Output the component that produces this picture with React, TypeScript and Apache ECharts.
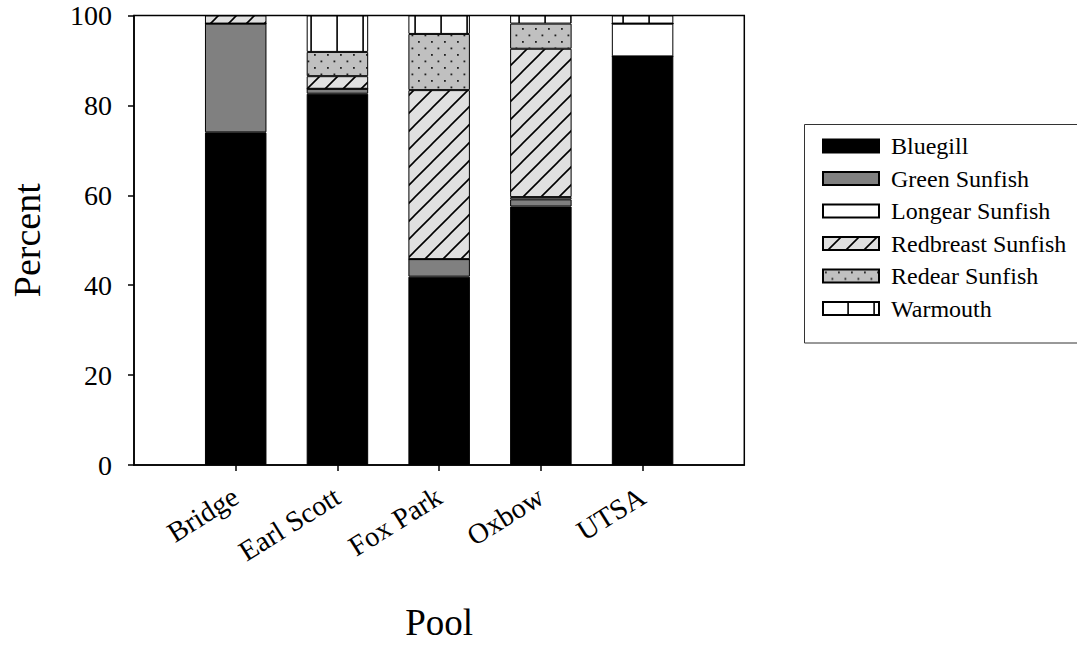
import React, { useEffect, useRef } from "react";
import * as echarts from "echarts";

const categories = ["Bridge", "Earl Scott", "Fox Park", "Oxbow", "UTSA"];
const seriesNames = [
  "Bluegill",
  "Green Sunfish",
  "Longear Sunfish",
  "Redbreast Sunfish",
  "Redear Sunfish",
  "Warmouth",
];
const bluegill = [74.0, 82.6, 41.9, 57.5, 90.9];
const greenSunfish = [24.2, 1.1, 3.9, 1.6, 0];
const longearSunfish = [0, 0, 0, 0.5, 7.3];
const redbreastSunfish = [1.8, 2.8, 37.6, 33.0, 0];
const redearSunfish = [0, 5.4, 12.5, 5.6, 0];
const warmouth = [0, 8.1, 4.1, 1.8, 1.8];
const yTicks = [0, 20, 40, 60, 80, 100];

const FONT = "'Liberation Serif', 'Times New Roman', serif";

function svgUrl(w: number, h: number, body: string) {
  const s = `<svg xmlns="http://www.w3.org/2000/svg" width="${w}" height="${h}">${body}</svg>`;
  return "data:image/svg+xml;charset=utf-8," + encodeURIComponent(s);
}

const hatch = {
  image: svgUrl(
    18,
    18,
    `<rect width="18" height="18" fill="#e0e0e0"/><path d="M-3,21 L21,-3 M-3,3 L3,-3 M15,21 L21,15" stroke="#000" stroke-width="1.6" fill="none"/>`
  ),
  repeat: "repeat",
  imageWidth: 18,
  imageHeight: 18,
};
const dots = {
  image: svgUrl(
    13,
    13,
    `<rect width="13" height="13" fill="#c0c0c0"/><rect x="2" y="2" width="1.8" height="1.8" fill="#202020"/><rect x="8.5" y="8.5" width="1.8" height="1.8" fill="#202020"/>`
  ),
  repeat: "repeat",
  imageWidth: 13,
  imageHeight: 13,
};
const vlines = {
  image: svgUrl(
    26,
    10,
    `<rect width="26" height="10" fill="#ffffff"/><rect x="24.3" y="0" width="1.6" height="10" fill="#000"/>`
  ),
  repeat: "repeat",
  imageWidth: 26,
  imageHeight: 10,
};

export default function App() {
  const ref = useRef<HTMLDivElement>(null);
  useEffect(() => {
    document.body.style.margin = "0";
    const chart = echarts.init(ref.current!, null, { renderer: "svg" });
    const valuesList = [
      bluegill,
      greenSunfish,
      longearSunfish,
      redbreastSunfish,
      redearSunfish,
      warmouth,
    ];
    // padded slots: one empty slot at each end of the category axis
    const axisCats = ["", ...categories, ""];
    const fills: any[] = ["#000000", "#808080", "#ffffff", hatch, dots, vlines];
    const series = seriesNames.map((name, k) => ({
      name,
      type: "bar",
      stack: "total",
      barWidth: 61.5,
      itemStyle: { color: fills[k], borderColor: "#000", borderWidth: 1 },
      emphasis: { disabled: true },
      data: ["-", ...valuesList[k], "-"],
    }));
    const last = axisCats.length - 1;
    chart.setOption({
      animation: false,
      grid: {
        left: 133,
        top: 15.5,
        right: 1077 - 744.3,
        bottom: 646 - 466.7,
        show: true,
        borderColor: "#000",
        borderWidth: 1.5,
        backgroundColor: "transparent",
      },
      legend: {
        orient: "vertical",
        left: 822,
        top: 134,
        itemWidth: 56,
        itemHeight: 13,
        itemGap: 8.5,
        icon: "rect",
        padding: 0,
        selectedMode: false,
        data: seriesNames,
        textStyle: {
          fontFamily: FONT,
          fontSize: 24,
          color: "#000",
          padding: [0, 0, 0, 7],
        },
      },
      graphic: [
        {
          type: "rect",
          shape: { x: 804.5, y: 124.5, width: 300, height: 218.5 },
          style: { fill: "none", stroke: "#333", lineWidth: 1 },
          silent: true,
        },
      ],
      xAxis: {
        type: "category",
        data: axisCats,
        boundaryGap: false,
        splitLine: { show: false },
        axisLine: { show: true, lineStyle: { color: "#000", width: 1.5 } },
        axisTick: {
          show: true,
          length: 6,
          lineStyle: { color: "#000", width: 1.5 },
          interval: (i: number) => i > 0 && i < last,
        },
        axisLabel: {
          interval: 0,
          rotate: 32,
          margin: 29,
          fontFamily: FONT,
          fontSize: 28.5,
          color: "#000",
        },
        name: "Pool",
        nameLocation: "middle",
        nameGap: 139,
        nameTextStyle: { fontFamily: FONT, fontSize: 37, color: "#000" },
      },
      yAxis: {
        type: "value",
        min: yTicks[0],
        max: yTicks[yTicks.length - 1],
        interval: yTicks[1] - yTicks[0],
        splitLine: { show: false },
        axisLine: { show: true, lineStyle: { color: "#000", width: 1.5 } },
        axisTick: { show: true, length: 6, lineStyle: { color: "#000", width: 1.5 } },
        axisLabel: {
          margin: 22,
          fontFamily: FONT,
          fontSize: 28,
          color: "#000",
        },
        name: "Percent",
        nameLocation: "middle",
        nameGap: 88,
        nameTextStyle: { fontFamily: FONT, fontSize: 38, color: "#000" },
      },
      series,
    });
    return () => chart.dispose();
  }, []);
  return (
    <div
      ref={ref}
      style={{ position: "fixed", left: 0, top: 0, width: 1077, height: 646, background: "#fff" }}
    />
  );
}
